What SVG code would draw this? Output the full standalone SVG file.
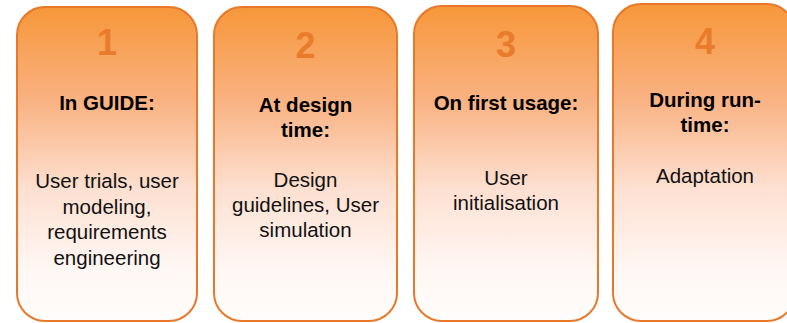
<svg xmlns="http://www.w3.org/2000/svg" width="787" height="323" viewBox="0 0 787 323">
<defs>
<linearGradient id="g" x1="0" y1="0" x2="0" y2="1">
<stop offset="0" stop-color="#f7973a"/>
<stop offset="0.3" stop-color="#f9b282"/>
<stop offset="0.58" stop-color="#fde0d1"/>
<stop offset="0.85" stop-color="#fff8f5"/>
<stop offset="1" stop-color="#fffdfc"/>
</linearGradient>
<style>
.box{fill:url(#g);stroke:#e8792b;stroke-width:2}
.num{font-family:"Liberation Sans",Arial,sans-serif;font-weight:bold;font-size:36px;fill:#e97b2d;text-anchor:middle}
.hd{font-family:"Liberation Sans",Arial,sans-serif;font-weight:bold;font-size:20.5px;fill:#000;text-anchor:middle}
.tx{font-family:"Liberation Sans",Arial,sans-serif;font-size:20.5px;fill:#111;text-anchor:middle}
</style>
</defs>
<g id="connectors"></g>
<g id="node1">
<rect class="box" x="17" y="7" width="180" height="314" rx="28" ry="28"/>
<text class="num" x="107" y="55">1</text>
<text class="hd" x="107" y="110">In GUIDE:</text>
<text class="tx" x="107" y="188">User trials, user</text>
<text class="tx" x="107" y="213.5">modeling,</text>
<text class="tx" x="107" y="239">requirements</text>
<text class="tx" x="107" y="264.5">engineering</text>
</g>
<g id="node2">
<rect class="box" x="214" y="7" width="183" height="314" rx="28" ry="28"/>
<text class="num" x="305.5" y="58">2</text>
<text class="hd" x="305.5" y="112">At design</text>
<text class="hd" x="305.5" y="137">time:</text>
<text class="tx" x="305.5" y="187">Design</text>
<text class="tx" x="305.5" y="212">guidelines, User</text>
<text class="tx" x="305.5" y="237">simulation</text>
</g>
<g id="node3">
<rect class="box" x="414" y="6" width="184" height="315" rx="28" ry="28"/>
<text class="num" x="506" y="56.5">3</text>
<text class="hd" x="506" y="110">On first usage:</text>
<text class="tx" x="506" y="185">User</text>
<text class="tx" x="506" y="210">initialisation</text>
</g>
<g id="node4">
<rect class="box" x="613" y="4" width="182" height="317" rx="28" ry="28"/>
<text class="num" x="705" y="53.5">4</text>
<text class="hd" x="705" y="107">During run-</text>
<text class="hd" x="705" y="132">time:</text>
<text class="tx" x="705" y="183">Adaptation</text>
</g>
</svg>
